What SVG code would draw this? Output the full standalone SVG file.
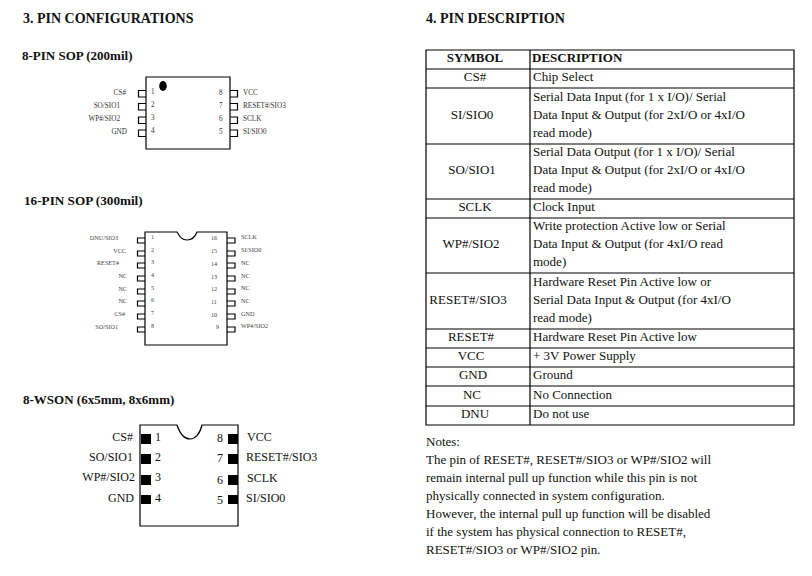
<svg xmlns="http://www.w3.org/2000/svg" width="812" height="576" viewBox="0 0 812 576">
<style>
text{font-family:"Liberation Serif","Times New Roman",serif;fill:#111}
.h{font-size:14px;font-weight:bold}
.t{font-size:13px}
.th{font-size:13px;font-weight:bold}
.c{text-anchor:middle}
.e{text-anchor:end}
.s8{font-size:7.2px;fill:#333}
.s6{font-size:6.2px;fill:#444}
.w{font-size:12px}
.l{fill:none;stroke:#000;stroke-width:1.2}
.pad{fill:#000}
</style>
<rect width="812" height="576" fill="#fff"/>
<g id="headings">
<text class="h" x="23" y="23">3. PIN CONFIGURATIONS</text>
<text class="h" x="426" y="23">4. PIN DESCRIPTION</text>
<text class="h" x="22" y="60" style="font-size:13px">8-PIN SOP (200mil)</text>
<text class="h" x="24" y="205" style="font-size:13.2px">16-PIN SOP (300mil)</text>
<text class="h" x="23" y="404" style="font-size:13px">8-WSON (6x5mm, 8x6mm)</text>
</g>
<g id="chip-sop8">
<path class="l" d="M146 77H230V149H146Z"/>
<ellipse cx="163" cy="86" rx="3.800" ry="5" fill="#000"/>
<path class="l" d="M146 90.500H138.500V97H146M146 103.500H138.500V110H146M146 117H138.500V123.500H146M146 130H138.500V136.500H146M230 90.500H237.500V97H230M230 103.500H237.500V110H230M230 117H237.500V123.500H230M230 130H237.500V136.500H230"/>
<text class="s8 e" x="126" y="95">CS#</text><text class="s8 e" x="120" y="108">SO/SIO1</text><text class="s8 e" x="120" y="121">WP#/SIO2</text><text class="s8 e" x="127" y="134">GND</text>
<text class="s8" x="151" y="94">1</text><text class="s8" x="151" y="107">2</text><text class="s8" x="151" y="120">3</text><text class="s8" x="151" y="133">4</text>
<text class="s8" x="219" y="95">8</text><text class="s8" x="219" y="108">7</text><text class="s8" x="219" y="121">6</text><text class="s8" x="219" y="134">5</text>
<text class="s8" x="243" y="95">VCC</text><text class="s8" x="243" y="108">RESET#/SIO3</text><text class="s8" x="243" y="121">SCLK</text><text class="s8" x="243" y="134">SI/SIO0</text>
</g>
<g id="chip-sop16">
<path class="l" d="M145 232H177C180 237 182 240 187 240C192 240 195 237 197 232H227V345H145Z"/>
<path class="l" d="M145 238H137.500V243H145M145 251H137.500V256H145M145 263H137.500V268H145M145 276H137.500V281H145M145 289H137.500V294H145M145 301H137.500V306H145M145 314H137.500V319H145M145 327H137.500V332H145M227 238H235V243H227M227 251H235V256H227M227 263H235V268H227M227 276H235V281H227M227 289H235V294H227M227 301H235V306H227M227 314H235V319H227M227 327H235V332H227"/>
<text class="s6 e" x="118" y="240">DNU/SIO3</text><text class="s6 e" x="126" y="253">VCC</text><text class="s6 e" x="119" y="265">RESET#</text><text class="s6 e" x="127" y="278">NC</text><text class="s6 e" x="127" y="291">NC</text><text class="s6 e" x="127" y="303">NC</text><text class="s6 e" x="125" y="316">CS#</text><text class="s6 e" x="118" y="329">SO/SIO1</text>
<text class="s6" x="151" y="239">1</text><text class="s6" x="151" y="252">2</text><text class="s6" x="151" y="264">3</text><text class="s6" x="151" y="277">4</text><text class="s6" x="151" y="290">5</text><text class="s6" x="151" y="302">6</text><text class="s6" x="151" y="315">7</text><text class="s6" x="151" y="328">8</text>
<text class="s6" x="211" y="240">16</text><text class="s6" x="211" y="253">15</text><text class="s6" x="211" y="266">14</text><text class="s6" x="211" y="279">13</text><text class="s6" x="211" y="291">12</text><text class="s6" x="211" y="304">11</text><text class="s6" x="211" y="317">10</text><text class="s6" x="216" y="329">9</text>
<text class="s6" x="241" y="239">SCLK</text><text class="s6" x="241" y="252">SI/SIO0</text><text class="s6" x="241" y="265">NC</text><text class="s6" x="241" y="278">NC</text><text class="s6" x="241" y="290">NC</text><text class="s6" x="241" y="303">NC</text><text class="s6" x="241" y="316">GND</text><text class="s6" x="241" y="328">WP#/SIO2</text>
</g>
<g id="chip-wson8">
<path class="l" d="M140 425H177C180 434 185 439 190 439C195 439 200 434 202 425H238V526H140Z"/>
<path class="pad" d="M141 434H151V444H141ZM141 454H151V464H141ZM141 475H151V485H141ZM141 495H151V504H141ZM228 434H238V444H228ZM228 454H238V464H228ZM228 475H238V485H228ZM228 495H238V504H228Z"/>
<text class="w e" x="133" y="441">CS#</text><text class="w e" x="133" y="461">SO/SIO1</text><text class="w e" x="135" y="481">WP#/SIO2</text><text class="w e" x="134" y="502">GND</text>
<text class="w" x="155" y="441">1</text><text class="w" x="155" y="461">2</text><text class="w" x="155" y="481">3</text><text class="w" x="155" y="502">4</text>
<text class="w" x="217" y="442">8</text><text class="w" x="217" y="462">7</text><text class="w" x="217" y="484">6</text><text class="w" x="217" y="504">5</text>
<text class="w" x="247" y="441">VCC</text><text class="w" x="246" y="461">RESET#/SIO3</text><text class="w" x="247" y="482">SCLK</text><text class="w" x="246" y="502">SI/SIO0</text>
</g>
<g id="pin-table">
<path class="l" d="M426 50H794V425H426ZM530 50V425M426 69H794M426 88H794M426 144H794M426 199H794M426 218H794M426 273H794M426 329H794M426 348H794M426 367H794M426 386H794M426 406H794"/>
<text class="th c" x="475" y="62">SYMBOL</text><text class="th" x="532" y="62">DESCRIPTION</text>
<text class="t c" x="475" y="81">CS#</text><text class="t" x="533" y="81">Chip Select</text>
<text class="t c" x="472" y="119">SI/SIO0</text>
<text class="t" x="533" y="101">Serial Data Input (for 1 x I/O)/ Serial</text><text class="t" x="533" y="119">Data Input &amp; Output (for 2xI/O or 4xI/O</text><text class="t" x="533" y="137">read mode)</text>
<text class="t c" x="472" y="174">SO/SIO1</text>
<text class="t" x="533" y="156">Serial Data Output (for 1 x I/O)/ Serial</text><text class="t" x="533" y="174">Data Input &amp; Output (for 2xI/O or 4xI/O</text><text class="t" x="533" y="192">read mode)</text>
<text class="t c" x="475" y="211">SCLK</text><text class="t" x="533" y="211">Clock Input</text>
<text class="t c" x="471" y="248">WP#/SIO2</text>
<text class="t" x="533" y="230">Write protection Active low or Serial</text><text class="t" x="533" y="248">Data Input &amp; Output (for 4xI/O read</text><text class="t" x="533" y="266">mode)</text>
<text class="t c" x="468" y="304">RESET#/SIO3</text>
<text class="t" x="533" y="286">Hardware Reset Pin Active low or</text><text class="t" x="533" y="304">Serial Data Input &amp; Output (for 4xI/O</text><text class="t" x="533" y="322">read mode)</text>
<text class="t c" x="471" y="341">RESET#</text><text class="t" x="533" y="341">Hardware Reset Pin Active low</text>
<text class="t c" x="471" y="360">VCC</text><text class="t" x="533" y="360">+ 3V Power Supply</text>
<text class="t c" x="473" y="379">GND</text><text class="t" x="533" y="379">Ground</text>
<text class="t c" x="472" y="399">NC</text><text class="t" x="533" y="399">No Connection</text>
<text class="t c" x="475" y="418">DNU</text><text class="t" x="533" y="418">Do not use</text>
</g>
<g id="notes">
<text class="t" x="426" y="446">Notes:</text>
<text class="t" x="426" y="464">The pin of RESET#, RESET#/SIO3 or WP#/SIO2 will</text>
<text class="t" x="426" y="482">remain internal pull up function while this pin is not</text>
<text class="t" x="426" y="500">physically connected in system configuration.</text>
<text class="t" x="426" y="518">However, the internal pull up function will be disabled</text>
<text class="t" x="426" y="536">if the system has physical connection to RESET#,</text>
<text class="t" x="426" y="554">RESET#/SIO3 or WP#/SIO2 pin.</text>
</g>
</svg>
